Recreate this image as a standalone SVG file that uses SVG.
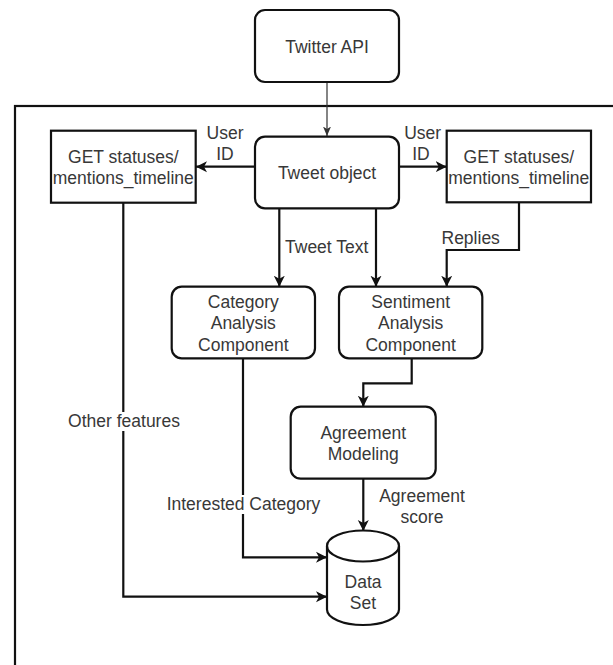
<svg xmlns="http://www.w3.org/2000/svg" width="613" height="665" viewBox="0 0 613 665">
<style>
.box{fill:#fff;stroke:#111;stroke-width:2.2}
.ln{fill:none;stroke:#111;stroke-width:2.2}
.thin{fill:none;stroke:#333;stroke-width:1.2}
text{font-family:"Liberation Sans",Arial,sans-serif;font-size:17.5px;fill:#383838;text-anchor:middle}
.lbg{fill:#fff}
</style>
<defs>
<marker id="ah" markerUnits="userSpaceOnUse" markerWidth="14" markerHeight="14" viewBox="0 0 14 14" refX="11" refY="7" orient="auto">
<path d="M0,1.5 L11,7 L0,12.5 L3,7 Z" fill="#111"/>
</marker>
<marker id="ahs" markerUnits="userSpaceOnUse" markerWidth="10" markerHeight="10" viewBox="0 0 10 10" refX="9.5" refY="5" orient="auto">
<path d="M0,1 L9.5,5 L0,9 L2.5,5 Z" fill="#333"/>
</marker>
</defs>
<rect width="613" height="665" fill="#fff"/>
<rect id="frame" x="15" y="106" width="700" height="700" fill="none" stroke="#111" stroke-width="2.2"/>

<g id="connectors">
<path class="thin" d="M327,82 L327,136" marker-end="url(#ahs)"/>
<path class="ln" d="M255,166.7 L196,166.7" marker-end="url(#ah)"/>
<path class="ln" d="M399,166.7 L446.7,166.7" marker-end="url(#ah)"/>
<path class="ln" d="M279.3,208.3 L279.3,286.7" marker-end="url(#ah)"/>
<path class="ln" d="M376,208.3 L376,286.7" marker-end="url(#ah)"/>
<path class="ln" d="M519,202.3 L519,250 L446.7,250 L446.7,286.7" marker-end="url(#ah)"/>
<path class="ln" d="M411.7,358.3 L411.7,383.3 L363.3,383.3 L363.3,406.7" marker-end="url(#ah)"/>
<path class="ln" d="M363.3,478.7 L363.3,531" marker-end="url(#ah)"/>
<path class="ln" d="M243,358.3 L243,557.3 L327,557.3" marker-end="url(#ah)"/>
<path class="ln" d="M123.3,202.7 L123.3,596.7 L327,596.7" marker-end="url(#ah)"/>
<text x="225" y="138.7">User</text>
<text x="225" y="160.3">ID</text>
<text x="422.7" y="138.7">User</text>
<text x="421" y="160.3">ID</text>
<text x="326.7" y="253.3">Tweet Text</text>
<text x="470.7" y="244.3">Replies</text>
<rect class="lbg" x="67" y="412" width="114" height="19"/>
<text x="124" y="426.7">Other features</text>
<rect class="lbg" x="165" y="495" width="157" height="19"/>
<text x="243.5" y="509.5">Interested Category</text>
<text x="422" y="501.7">Agreement</text>
<text x="422" y="522.7">score</text>
</g>

<g id="twitter-api">
<rect class="box" x="255" y="10" width="144" height="72" rx="10"/>
<text x="327" y="52.7">Twitter API</text>
</g>
<g id="get-left">
<rect class="box" x="51" y="130.7" width="144.7" height="72"/>
<text x="123.3" y="162.7">GET statuses/</text>
<text x="123.3" y="184.3">mentions_timeline</text>
</g>
<g id="tweet-object">
<rect class="box" x="255" y="136.7" width="144" height="71.6" rx="10"/>
<text x="327" y="178.5">Tweet object</text>
</g>
<g id="get-right">
<rect class="box" x="446.7" y="130.7" width="144.3" height="71.6"/>
<text x="518.8" y="162.7">GET statuses/</text>
<text x="518.8" y="184.3">mentions_timeline</text>
</g>
<g id="category">
<rect class="box" x="171.7" y="286.7" width="143.3" height="71.6" rx="10"/>
<text x="243.3" y="307.7">Category</text>
<text x="243.3" y="329.3">Analysis</text>
<text x="243.3" y="351">Component</text>
</g>
<g id="sentiment">
<rect class="box" x="339" y="286.7" width="143.3" height="71.6" rx="10"/>
<text x="410.7" y="307.7">Sentiment</text>
<text x="410.7" y="329.3">Analysis</text>
<text x="410.7" y="351">Component</text>
</g>
<g id="agreement">
<rect class="box" x="290.7" y="406.7" width="145" height="72" rx="10"/>
<text x="363.2" y="438.7">Agreement</text>
<text x="363.2" y="460">Modeling</text>
</g>
<g id="dataset">
<path class="box" d="M327,546 A36,15.5 0 0 1 399,546 L399,609.5 A36,15.5 0 0 1 327,609.5 Z"/>
<path class="ln" d="M327,546 A36,15.5 0 0 0 399,546"/>
<text x="363" y="587.7">Data</text>
<text x="363" y="608.7">Set</text>
</g>
</svg>
